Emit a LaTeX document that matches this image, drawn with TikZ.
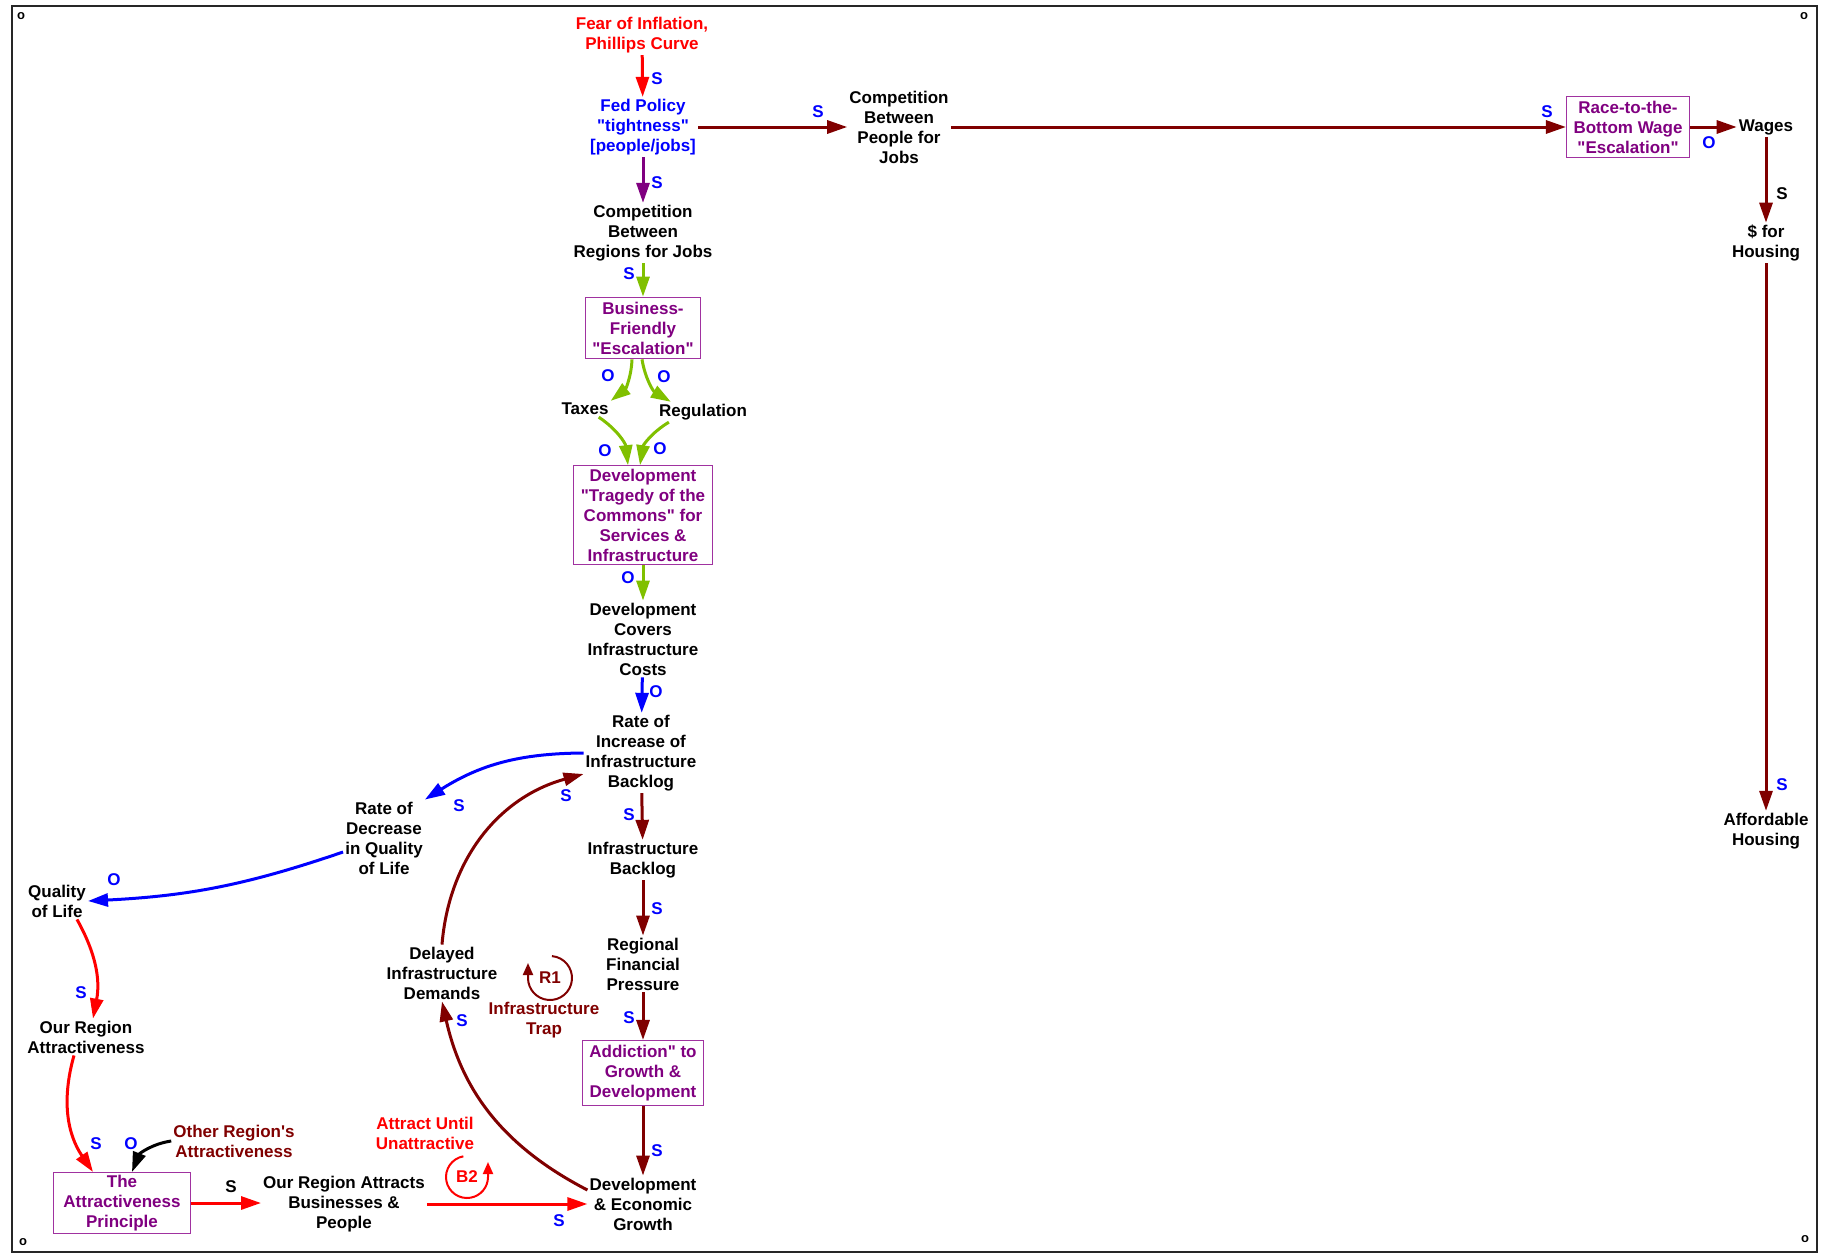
\documentclass[tikz,border=0pt]{standalone}
\usepackage{fontspec}
\setmainfont{Liberation Sans}[Ligatures=TeXOff]
\usetikzlibrary{arrows.meta}
\definecolor{dred}{RGB}{128,0,0}
\definecolor{dpurple}{RGB}{128,0,128}
\definecolor{boxline}{RGB}{160,50,160}
\definecolor{lgreen}{RGB}{128,192,0}
\tikzset{
    var/.style={align=center,inner sep=2pt,font=\fontsize{17}{20}\selectfont\bfseries},
    loopbox/.style={var,draw=boxline,line width=1.2pt,text=dpurple,inner xsep=7pt,inner ysep=4.5pt},
    pol/.style={inner sep=0pt,font=\fontsize{17}{20}\selectfont\bfseries},
    link/.style={line width=3pt,-{Triangle[length=20pt,width=13pt]}},
    looparrow/.style={line width=2pt,-{Triangle[length=12pt,width=10pt]}}
}

\begin{document}
\begin{tikzpicture}[x=1pt,y=1pt]
    \useasboundingbox (0,0) rectangle (1823,-1255);
    \draw[line width=2.5pt,black!85] (12,-6) rectangle (1817,-1252);
    \foreach \cx/\cy [count=\i] in {21/16,1804/16,23/1242,1805/1239}
        \node[font=\fontsize{13}{13}\selectfont\bfseries,inner sep=0pt] (corner\i) at (\cx,-\cy) {o};

    % top row
    \node[var,text=red] (fear) at (642,-35) {Fear of Inflation,\\Phillips Curve};
    \node[var,text=blue] (fed) at (643,-127) {Fed Policy\\"tightness"\\{[people/jobs]}};
    \node[var] (comppeople) at (899,-127) {Competition\\Between\\People for\\Jobs};
    \node[loopbox] (race) at (1628,-127) {Race-to-the-\\Bottom Wage\\"Escalation"};
    \node[var] (wages) at (1766,-127) {Wages};
    \node[var] (housingfunds) at (1766,-243) {\$ for\\Housing};
    \node[var] (affordable) at (1766,-831) {Affordable\\Housing};

    % central column
    \node[var] (compregions) at (643,-233) {Competition\\Between\\Regions for Jobs};
    \node[loopbox] (bizfriendly) at (643,-328) {Business-\\Friendly\\"Escalation"};
    \node[var] (taxes) at (585,-409) {Taxes};
    \node[var] (regulation) at (703,-412) {Regulation};
    \node[loopbox,inner ysep=3pt] (tragedy) at (643,-515) {Development\\"Tragedy of the\\Commons" for\\Services \&\\Infrastructure};
    \node[var] (devcovers) at (643,-639) {Development\\Covers\\Infrastructure\\Costs};
    \node[var] (rateinc) at (641,-753) {Rate of\\Increase of\\Infrastructure\\Backlog};
    \node[var] (backlog) at (643,-860) {Infrastructure\\Backlog};
    \node[var] (finpressure) at (643,-964) {Regional\\Financial\\Pressure};
    \node[loopbox] (addiction) at (643,-1073) {Addiction" to\\Growth \&\\Development};
    \node[var] (devgrowth) at (643,-1204) {Development\\\& Economic\\Growth};

    % left side
    \node[var] (attracts) at (344,-1204) {Our Region Attracts\\Businesses \&\\People};
    \node[loopbox,inner xsep=10pt,inner ysep=2.5pt] (principle) at (122,-1203) {The\\Attractiveness\\Principle};
    \node[var,text=dred] (otherregion) at (234,-1141) {Other Region's\\Attractiveness};
    \node[var] (ourattr) at (86,-1037) {Our Region\\Attractiveness};
    \node[var] (quality) at (57,-901) {Quality\\of Life};
    \node[var] (ratedec) at (384,-838) {Rate of\\Decrease\\in Quality\\of Life};
    \node[var] (delayed) at (442,-973) {Delayed\\Infrastructure\\Demands};

    % loop markers
    \node[var,text=dred] (r1) at (550,-978) {R1};
    \draw[looparrow,dred] ([shift={(85:22)}]r1.center) arc[start angle=85,end angle=-180,radius=22] -- ++(0,15);
    \node[var,text=dred] (r1name) at (544,-1020) {Infrastructure\\Trap};
    \node[var,text=red] (b2) at (467,-1177) {B2};
    \draw[looparrow,red] ([shift={(100:21)}]b2.center) arc[start angle=100,end angle=360,radius=21] -- ++(0,15);
    \node[var,text=red] (b2name) at (425,-1133) {Attract Until\\Unattractive};

    % links
    \draw[link,red] (fear) -- (fed);
    \draw[link,dred] (fed) -- (comppeople);
    \draw[link,dred] (comppeople) -- (race);
    \draw[link,dred] (race) -- (wages);
    \draw[link,dred] (wages) -- (housingfunds);
    \draw[link,dred] (housingfunds) -- (affordable);
    \draw[link,dpurple] (fed) -- (compregions);
    \draw[link,lgreen] (compregions) -- (bizfriendly);
    \draw[link,lgreen] ([xshift=-11pt]bizfriendly.south) to[bend left=25] (taxes.north east);
    \draw[link,lgreen] ([xshift=-1pt]bizfriendly.south) to[bend right=25] ([xshift=14pt]regulation.north west);
    \draw[link,lgreen] ([xshift=-12pt]taxes.south east) to[bend left=25] ([xshift=-15pt]tragedy.north);
    \draw[link,lgreen] ([xshift=12pt]regulation.south west) to[bend right=25] ([xshift=-3pt]tragedy.north);
    \draw[link,lgreen] (tragedy) -- (devcovers);
    \draw[link,blue] (devcovers) -- (rateinc);
    \draw[link,blue] (rateinc.west) to[bend right=16] (ratedec.north east);
    \draw[link,blue] ([yshift=-14pt]ratedec.west) to[bend left=8] (quality.east);
    \draw[link,red] ([xshift=20pt]quality.south) to[bend left=20] ([xshift=7pt]ourattr.north);
    \draw[link,red] ([xshift=-12pt]ourattr.south) to[bend right=25] ([xshift=-29pt]principle.north);
    \draw[link,black] (otherregion.west) to[bend right=30] ([xshift=10pt]principle.north);
    \draw[link,red] (principle.east) -- (principle.east -| attracts.west);
    \draw[link,red] (attracts) -- (devgrowth);
    \draw[link,dred] ([yshift=14pt]devgrowth.west) to[bend left=25] (delayed.south);
    \draw[link,dred] (delayed.north) to[bend left=35] ([yshift=-21pt]rateinc.west);
    \draw[link,dred] (rateinc) -- (backlog);
    \draw[link,dred] (backlog) -- (finpressure);
    \draw[link,dred] (finpressure) -- (addiction);
    \draw[link,dred] (addiction) -- (devgrowth);

    % polarities
    \foreach \px/\py/\lbl/\clr [count=\i] in {
        657/79/S/blue, 818/112/S/blue, 1547/112/S/blue, 1709/143/O/blue,
        1782/194/S/black, 1782/785/S/blue, 657/183/S/blue, 629/274/S/blue,
        608/376/O/blue, 664/377/O/blue, 605/451/O/blue, 660/449/O/blue,
        628/578/O/blue, 656/692/O/blue, 459/806/S/blue, 114/880/O/blue,
        81/993/S/blue, 96/1144/S/blue, 131/1144/O/blue, 231/1187/S/black,
        559/1221/S/blue, 462/1021/S/blue, 566/796/S/blue, 629/815/S/blue,
        657/909/S/blue, 629/1018/S/blue, 657/1151/S/blue}
        \node[pol,text=\clr] (pol\i) at (\px,-\py) {\lbl};
\end{tikzpicture}
\end{document}
